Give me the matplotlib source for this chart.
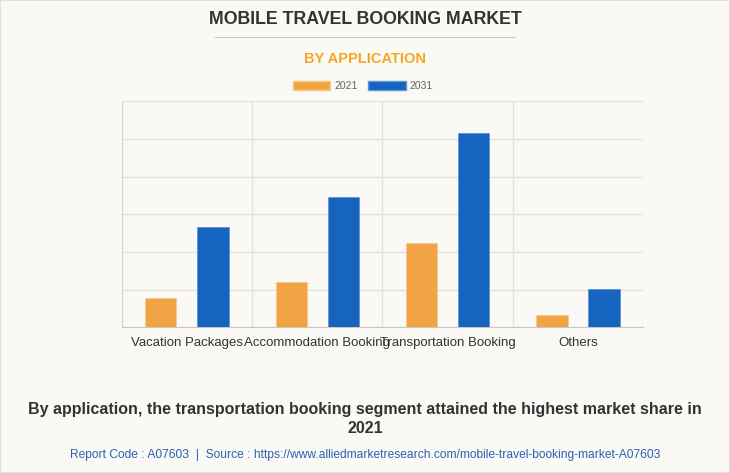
import numpy as np
import matplotlib
matplotlib.use("Agg")
import matplotlib.pyplot as plt
from matplotlib.patches import Patch

# Data (in gridline units - no y scale is shown)
categories = ["Vacation Packages", "Accommodation Booking", "Transportation Booking", "Others"]
series_names = ["2021", "2031"]
values_2021 = [0.79, 1.19, 2.24, 0.33]
values_2031 = [2.65, 3.46, 5.15, 1.01]

ORANGE = "#f2a444"
BLUE = "#1565c0"
BG = "#faf9f5"

plt.rcParams["font.family"] = ["Liberation Sans", "DejaVu Sans"]

fig = plt.figure(figsize=(7.3, 4.73), dpi=100, facecolor=BG)
ax = fig.add_axes([121.7 / 730, 1 - 327.3 / 473, 521.5 / 730, 226 / 473], facecolor=BG)

x = np.arange(len(categories))
w = 0.24
off = 0.2
ax.bar(x - off, values_2021, w, color=ORANGE, edgecolor="#f7c98a", linewidth=0.6, zorder=3)
ax.bar(x + off, values_2031, w, color=BLUE, edgecolor="#5f95d6", linewidth=0.6, zorder=3)

ax.set_xlim(-0.5, len(categories) - 0.5)
ax.set_ylim(0, 6)
ax.set_yticks(np.arange(0, 7, 1))
ax.set_yticklabels([])
ax.set_xticks(x)
ax.set_xticklabels(categories, fontsize=9.5, color="#333333")
ax.tick_params(axis="both", length=0, pad=7)

ax.grid(axis="y", color="#e3e2de", linewidth=1, zorder=0)
for b in np.arange(-0.5, len(categories), 1):
    ax.axvline(b, color="#e3e2de", linewidth=1, zorder=0)
for s in ["top", "right"]:
    ax.spines[s].set_visible(False)
ax.spines["left"].set_color("#d6d5d1")
ax.spines["bottom"].set_color("#c8c7c3")

# Titles
fig.text(0.5, 1 - 20 / 473, "MOBILE TRAVEL BOOKING MARKET", ha="center", va="center",
         fontsize=12.8, fontweight="bold", color="#333333")
fig.add_artist(plt.Line2D([215 / 730, 515 / 730], [1 - 37.5 / 473] * 2,
                          color="#c8c8c8", linewidth=0.8))
fig.text(0.5, 1 - 59 / 473, "BY APPLICATION", ha="center", va="center",
         fontsize=10.5, fontweight="bold", color="#f5a623")

# Legend
handles = [Patch(facecolor=ORANGE, edgecolor="#f7c98a"), Patch(facecolor=BLUE, edgecolor="#5f95d6")]
fig.legend(handles, series_names, loc="center", bbox_to_anchor=(0.497, 1 - 86 / 473),
           ncol=2, frameon=False, fontsize=7.5, labelcolor="#666666",
           handlelength=3.6, handleheight=1.0, handletextpad=0.4, columnspacing=1.0)

# Footer
fig.text(0.5, 1 - 419 / 473,
         "By application, the transportation booking segment attained the highest market share in\n2021",
         ha="center", va="center", fontsize=11.5, fontweight="bold", color="#333333", linespacing=1.3)
fig.text(0.5, 1 - 455 / 473,
         "Report Code : A07603  |  Source : https://www.alliedmarketresearch.com/mobile-travel-booking-market-A07603",
         ha="center", va="center", fontsize=8.65, color="#2a62b0")

fig.add_artist(plt.Rectangle((0, 0), 1, 1, transform=fig.transFigure, fill=False,
                             edgecolor="#e0e0e0", linewidth=1.5))

fig.savefig("out.png", dpi=100, facecolor=BG)
